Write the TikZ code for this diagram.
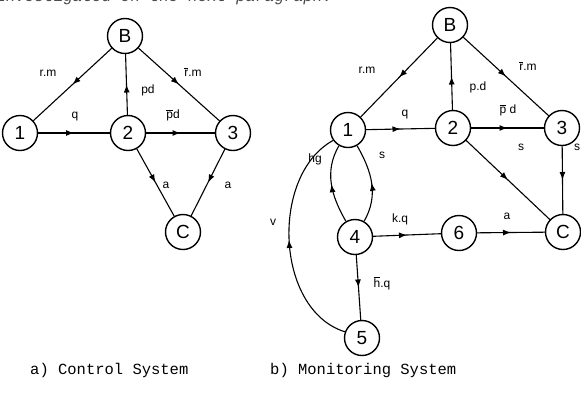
\documentclass[tikz,border=0pt]{standalone}
\usepackage{fontspec}
\setmainfont{Liberation Sans}
\setmonofont{Liberation Mono}
\usetikzlibrary{arrows.meta,decorations.markings}
\newcommand{\obar}[1]{$\overline{\mbox{#1}}$}
\begin{document}
\begin{tikzpicture}[x=1pt,y=-1pt,
  st/.style={circle,draw,line width=1.4pt,minimum size=35pt,inner sep=0pt,font=\fontsize{19}{19}\selectfont},
  ed/.style={line width=1.1pt,postaction={decorate},
    decoration={markings,mark=at position 0.5 with {\arrow{Latex[length=8pt,width=6pt]}}}},
  lb/.style={font=\fontsize{12}{12}\selectfont,inner sep=0pt},
  captxt/.style={font=\ttfamily\fontsize{15.5}{16}\selectfont,anchor=base west,inner sep=0pt}]
\useasboundingbox[fill=white] (0,0) rectangle (581,397);
\node[anchor=base west,inner sep=0pt,font=\ttfamily\itshape\fontsize{16}{16}\selectfont,text=black!70] (top) at (-4,1.5) {investigated on the next paragraph.};
% ---- left diagram
\node[st] (aB) at (125,36) {B};
\node[st] (a1) at (20,133) {1};
\node[st] (a2) at (128,133) {2};
\node[st] (a3) at (233,133) {3};
\node[st] (aC) at (183,232) {C};
\draw[ed] (aB) -- (a1);
\draw[ed] (a2) -- (aB);
\draw[ed] (aB) -- (a3);
\draw[ed] (a1) -- (a2);
\draw[ed] (a2) -- (a3);
\draw[ed] (a2) -- (aC);
\draw[ed] (a3) -- (aC);
\node[lb] (la1) at (48,73) {r.m};
\node[lb] (la2) at (148,90) {pd};
\node[lb] (la3) at (193,72) {\obar{r}.m};
\node[lb] (la4) at (75,117) {q};
\node[lb] (la5) at (173,115) {\obar{p}d};
\node[lb] (la6) at (166,185) {a};
\node[lb] (la7) at (228,185) {a};
% ---- right diagram
\node[st] (bB) at (450,25) {B};
\node[st] (b1) at (348,130) {1};
\node[st] (b2) at (453,128) {2};
\node[st] (b3) at (562,128) {3};
\node[st] (b4) at (355,237) {4};
\node[st] (b6) at (459,233) {6};
\node[st] (bC) at (563,232) {C};
\node[st] (b5) at (362,338) {5};
\draw[ed] (bB) -- (b1);
\draw[ed] (b2) -- (bB);
\draw[ed] (bB) -- (b3);
\draw[ed] (b1) -- (b2);
\draw[ed] (b2) -- (b3);
\draw[ed] (b2) -- (bC);
\draw[ed] (b3) -- (bC);
\draw[ed] (b4) to[out=120,in=240] (b1);
\draw[ed] (b4) to[out=60,in=300] (b1);
\draw[ed] (b4) -- (b6);
\draw[ed] (b6) -- (bC);
\draw[ed] (b4) -- (b5);
\draw[ed] (b5.160) .. controls (275,310) and (270,175) .. (b1.215);
\node[lb] (lb1) at (367,70) {r.m};
\node[lb] (lb2) at (478,87) {p.d};
\node[lb] (lb3) at (528,66) {\obar{r}.m};
\node[lb] (lb4) at (405,115) {q};
\node[lb] (lb5) at (508,110) {\obar{p} d};
\node[lb] (lb6) at (521,147) {s};
\node[lb] (lb7) at (577,147) {s};
\node[lb] (lb8) at (315,159) {hg};
\node[lb] (lb9) at (382,155) {s};
\node[lb] (lb10) at (273,222) {v};
\node[lb] (lb11) at (400,219) {k.q};
\node[lb] (lb12) at (507,216) {a};
\node[lb] (lb13) at (382,283) {\obar{h}.q};
% ---- captions
\node[captxt] (ca) at (30,374) {a) Control System};
\node[captxt] (cb) at (270,374) {b) Monitoring System};
\end{tikzpicture}
\end{document}
